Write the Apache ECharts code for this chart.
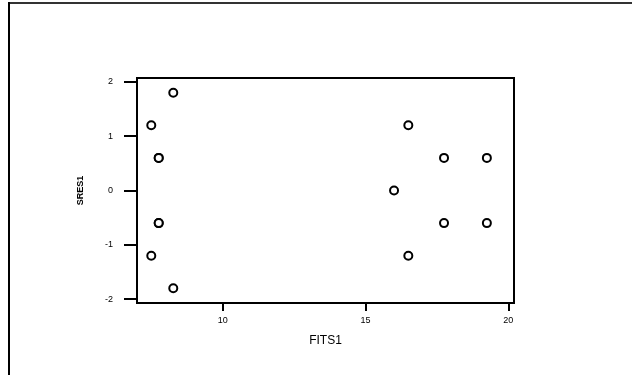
<!DOCTYPE html>
<html>
<head>
<meta charset="utf-8">
<script src="https://cdn.jsdelivr.net/npm/echarts@6/dist/echarts.min.js"></script>
<style>
  html, body { margin: 0; padding: 0; background: #fff; }
  #chart { width: 632px; height: 375px; }
</style>
</head>
<body>
<div id="chart"></div>
<script>
// fitted values vs standardized residuals
var fits = [8.27, 7.5, 7.76, 7.76, 7.76, 7.76, 7.5, 8.27,
            16.5, 17.75, 19.25, 16.0, 17.75, 19.25, 16.5];
var sres = [1.8, 1.2, 0.6, 0.6, -0.6, -0.6, -1.2, -1.8,
            1.2, 0.6, 0.6, 0.0, -0.6, -0.6, -1.2];
var xTicks = [10, 15, 20];
var yTicks = [-2, -1, 0, 1, 2];

var points = fits.map(function (f, i) { return [f, sres[i]]; });

var chart = echarts.init(document.getElementById('chart'));

var option = {
  animation: false,
  backgroundColor: '#fff',
  grid: {
    left: 137,
    right: 118,
    top: 78,
    bottom: 72,
    show: true,
    borderColor: '#000',
    borderWidth: 2
  },
  graphic: [
    { type: 'line', shape: { x1: 8, y1: 3, x2: 632, y2: 3 }, style: { stroke: '#333', lineWidth: 2 } },
    { type: 'line', shape: { x1: 9, y1: 2, x2: 9, y2: 375 }, style: { stroke: '#000', lineWidth: 2 } }
  ],
  xAxis: {
    type: 'value',
    min: 7,
    max: 20.2,
    name: 'FITS1',
    nameLocation: 'middle',
    nameGap: 32,
    nameTextStyle: { fontFamily: 'Liberation Sans', fontSize: 12, color: '#000' },
    axisLine: { show: false, onZero: false },
    splitLine: { show: false },
    axisTick: {
      show: true,
      customValues: xTicks,
      length: 8,
      lineStyle: { color: '#000', width: 2 }
    },
    axisLabel: {
      customValues: xTicks,
      margin: 13,
      fontFamily: 'Liberation Sans',
      fontSize: 9,
      color: '#000'
    }
  },
  yAxis: {
    type: 'value',
    min: -2.07,
    max: 2.07,
    name: 'SRES1',
    nameLocation: 'middle',
    nameGap: 52,
    nameRotate: 90,
    nameTextStyle: { fontFamily: 'Liberation Sans', fontSize: 9, fontWeight: 'bold', color: '#000' },
    axisLine: { show: false, onZero: false },
    splitLine: { show: false },
    axisTick: {
      show: true,
      customValues: yTicks,
      length: 13,
      lineStyle: { color: '#000', width: 2 }
    },
    axisLabel: {
      customValues: yTicks,
      margin: 24,
      fontFamily: 'Liberation Sans',
      fontSize: 9,
      color: '#000'
    }
  },
  series: [{
    type: 'scatter',
    data: points,
    symbol: 'circle',
    symbolSize: 8,
    itemStyle: { color: '#fff', borderColor: '#000', borderWidth: 2, opacity: 1 }
  }]
};

chart.setOption(option);
</script>
</body>
</html>
